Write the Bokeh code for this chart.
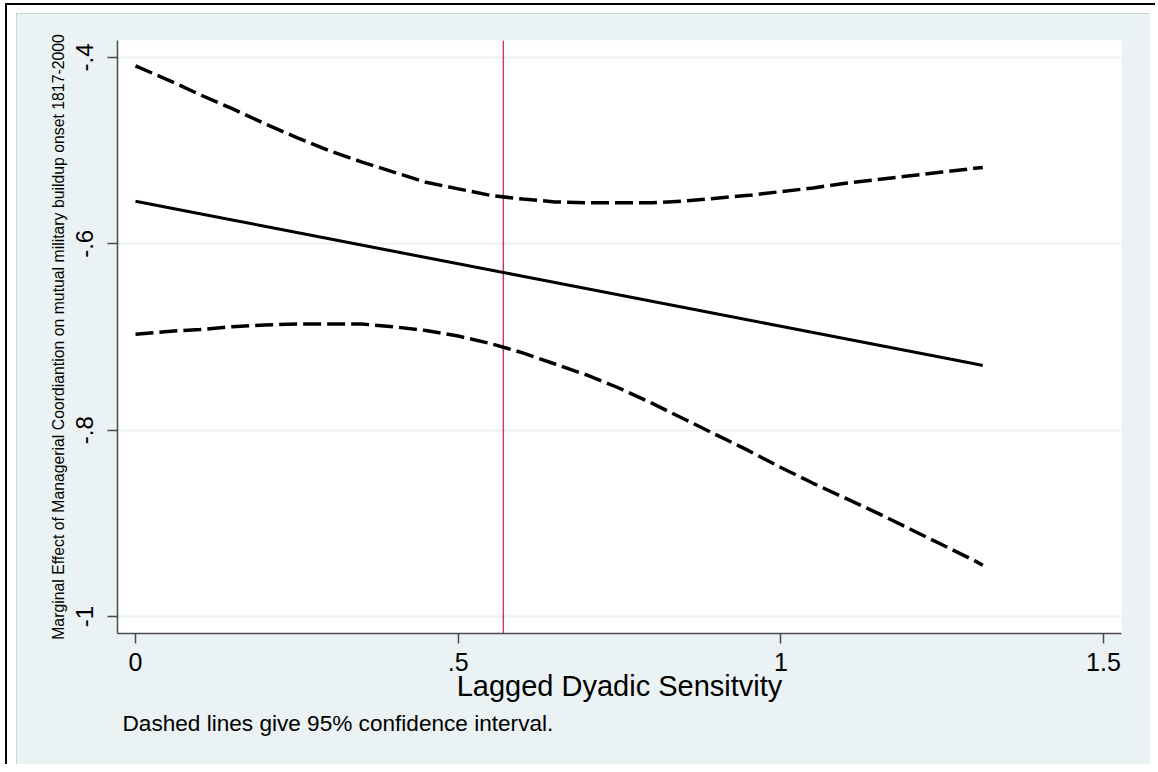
from bokeh.plotting import figure
from bokeh.layouts import column
from bokeh.models import Range1d, FixedTicker, Span, Title
from bokeh.embed import file_html
from bokeh.resources import INLINE

# Marginal effect of managerial coordination across lagged dyadic sensitivity
x_vals = [0.00, 0.05, 0.10, 0.15, 0.20, 0.25, 0.30, 0.35, 0.40, 0.45,
          0.50, 0.55, 0.60, 0.65, 0.70, 0.75, 0.80, 0.85, 0.90, 0.95,
          1.00, 1.05, 1.10, 1.15, 1.20, 1.25, 1.30, 1.313]
effect = [-0.5543, -0.5610, -0.5677, -0.5744, -0.5811, -0.5879, -0.5946,
          -0.6013, -0.6080, -0.6147, -0.6214, -0.6281, -0.6348, -0.6415,
          -0.6482, -0.6550, -0.6617, -0.6684, -0.6751, -0.6818, -0.6885,
          -0.6952, -0.7019, -0.7086, -0.7153, -0.7221, -0.7288, -0.7305]
upper = [-0.409, -0.424, -0.440, -0.455, -0.471, -0.486, -0.500, -0.512,
         -0.523, -0.534, -0.541, -0.548, -0.552, -0.555, -0.556, -0.556,
         -0.556, -0.554, -0.551, -0.548, -0.544, -0.540, -0.535, -0.531,
         -0.527, -0.523, -0.519, -0.518]
lower = [-0.697, -0.694, -0.692, -0.689, -0.687, -0.686, -0.686, -0.686,
         -0.689, -0.693, -0.699, -0.707, -0.717, -0.729, -0.741, -0.755,
         -0.771, -0.788, -0.805, -0.822, -0.840, -0.857, -0.873, -0.889,
         -0.906, -0.923, -0.940, -0.945]

mean_sensitivity = 0.570

x_ticks = [0, 0.5, 1, 1.5]
x_tick_labels = ["0", ".5", "1", "1.5"]
y_ticks = [-1, -0.8, -0.6, -0.4]
y_tick_labels = ["-1", "-.8", "-.6", "-.4"]

PANEL = "#EAF2F3"
FONT = "Liberation Sans"

p = figure(
    width=1134, height=751,
    output_backend="svg", toolbar_location=None,
    x_range=Range1d(-0.0279, 1.5279),
    y_range=Range1d(-1.0182, -0.3818),
    min_border_left=101, min_border_right=29,
    min_border_top=27, min_border_bottom=131,
    border_fill_color=PANEL,
    background_fill_color="white",
    outline_line_color=None,
    styles={"outline": "1px solid #c6cbcc", "outline-offset": "-1px"},
)

# axes
p.xaxis.ticker = FixedTicker(ticks=x_ticks)
p.xaxis.major_label_overrides = dict(zip(x_ticks, x_tick_labels))
p.yaxis.ticker = FixedTicker(ticks=y_ticks)
p.yaxis.major_label_overrides = dict(zip(y_ticks, y_tick_labels))
p.yaxis.major_label_orientation = "vertical"

for ax in (p.xaxis[0], p.yaxis[0]):
    ax.axis_line_color = "#4a4a4a"
    ax.axis_line_width = 1.5
    ax.major_tick_line_color = "#4a4a4a"
    ax.major_tick_line_width = 1.5
    ax.major_tick_out = 10
    ax.major_tick_in = 0
    ax.minor_tick_out = 0
    ax.minor_tick_in = 0
    ax.major_label_text_font = FONT
    ax.major_label_text_color = "black"
    ax.axis_label_text_font = FONT
    ax.axis_label_text_font_style = "normal"
    ax.axis_label_text_color = "black"

p.xaxis.major_label_text_font_size = "25px"
p.xaxis.major_label_standoff = 9
p.xaxis.axis_label = "Lagged Dyadic Sensitvity"
p.xaxis.axis_label_text_font_size = "29px"
p.xaxis.axis_label_standoff = -4

p.yaxis.major_label_text_font_size = "24px"
p.yaxis.major_label_standoff = 14
p.yaxis.axis_label = ("Marginal Effect of Managerial Coordiantion on mutual "
                      "military buildup onset 1817-2000")
p.yaxis.axis_label_text_font_size = "15.8px"
p.yaxis.axis_label_standoff = 7

p.xgrid.visible = False
p.ygrid.grid_line_color = PANEL
p.ygrid.grid_line_width = 2

# reference line at the mean of the moderator
p.add_layout(Span(location=mean_sensitivity, dimension="height",
                  line_color="#D0385E", line_width=1.5, level="underlay"))

# point estimate and 95% bounds
p.line(x_vals, effect, line_color="black", line_width=3)
p.line(x_vals, upper, line_color="black", line_width=3.5, line_dash="18 6")
p.line(x_vals, lower, line_color="black", line_width=3.5, line_dash="18 6")

# footnote
p.add_layout(Title(text="Dashed lines give 95% confidence interval.",
                   align="left", offset=5, text_font=FONT,
                   text_font_size="22.6px", text_font_style="normal",
                   text_color="black", standoff=8), "below")

# white page with black rules along the top and left edges
page = column(
    p,
    styles={
        "margin-top": "3px", "margin-left": "5px",
        "border-top": "2.5px solid black", "border-left": "2.5px solid black",
        "padding": "7.5px 5px 0px 8.5px",
        "background-color": "white",
    },
)

open("out.html", "w").write(file_html(page, INLINE))
